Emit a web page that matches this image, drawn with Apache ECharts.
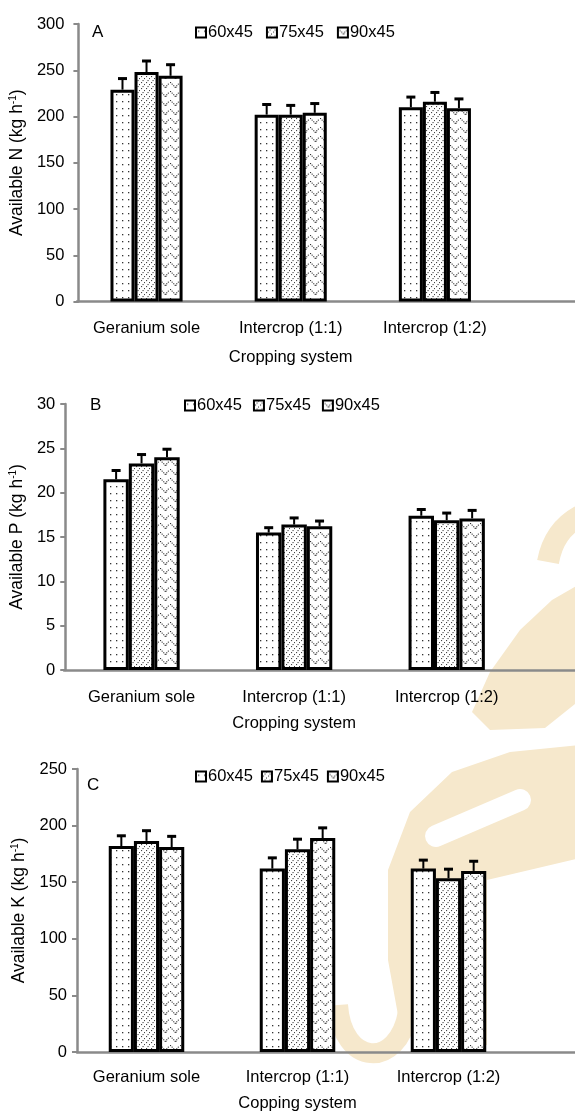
<!DOCTYPE html>
<html>
<head>
<meta charset="utf-8">
<script src="https://cdn.jsdelivr.net/npm/echarts@6/dist/echarts.min.js"></script>
<style>
html,body{margin:0;padding:0;background:#fff;}
#c{width:575px;height:1113px;}
</style>
</head>
<body>
<div id="c"></div>
<script>
// ---------- data ----------
const categories = ['Geranium sole', 'Intercrop (1:1)', 'Intercrop (1:2)'];
const seriesNames = ['60x45', '75x45', '90x45'];

const nA60 = [229, 202, 210];
const nA75 = [248, 202, 216];
const nA90 = [244, 204, 209];
const nAerr60 = [12, 11, 11];
const nAerr75 = [12, 10, 10];
const nAerr90 = [12, 10, 10];

const pB60 = [21.5, 15.5, 17.4];
const pB75 = [23.3, 16.4, 16.9];
const pB90 = [24.0, 16.2, 17.1];
const pBerr60 = [1.0, 0.55, 0.7];
const pBerr75 = [1.0, 0.75, 0.8];
const pBerr90 = [0.9, 0.6, 0.9];

const kC60 = [182, 162, 162];
const kC75 = [186.5, 179, 153.5];
const kC90 = [181, 189, 160];
const kCerr60 = [9, 9.5, 7.5];
const kCerr75 = [9, 9, 8];
const kCerr90 = [9.5, 9, 8.5];

const yTicksA = [0, 50, 100, 150, 200, 250, 300];
const yTicksB = [0, 5, 10, 15, 20, 25, 30];
const yTicksC = [0, 50, 100, 150, 200, 250];

// ---------- patterns ----------
function makeTile(w, h, pts, size, col) {
  const c = document.createElement('canvas');
  c.width = w; c.height = h;
  const g = c.getContext('2d');
  g.fillStyle = '#fff'; g.fillRect(0, 0, w, h);
  g.fillStyle = col;
  pts.forEach(p => g.fillRect(p[0], p[1], size, size));
  return c;
}
const tileDots = makeTile(6, 7, [[2, 3]], 1.3, '#333');
const tileDiag = makeTile(5, 6, [[4, 0], [2.5, 2], [1, 4]], 1.1, '#444');
const tileZig = makeTile(10, 9, [[0, 1], [1.6, 2.6], [3.2, 4.2], [4.6, 5.8], [6.2, 4.2], [7.8, 2.6], [5.4, 5.8]], 1.1, '#333');
const patterns = [tileDots, tileDiag, tileZig].map(t => ({ image: t, repeat: 'repeat' }));

// ---------- builder ----------
const FONT = 'Liberation Sans, Arial, sans-serif';
const GRAY = '#8a8a8a';
const WM = '#f6e8cc';

const panels = [
  { letter: 'A', vals: [nA60, nA75, nA90], errs: [nAerr60, nAerr75, nAerr90], ticks: yTicksA,
    yname: '{a|Available N (kg h}{s|-1}{a|)}', xname: 'Cropping system',
    grid: { left: 73, top: 24, width: 434, height: 277.5 }, yOffset: -4, axisX: 77, yMargin: 14,
    nameGapY: 40, nameGapX: 47, labelMargin: 18, letterPos: [87, 19], legendPos: [190, 19], legendGap: 13 },
  { letter: 'B', vals: [pB60, pB75, pB90], errs: [pBerr60, pBerr75, pBerr90], ticks: yTicksB,
    yname: '{a|Available P (kg h}{s|-1}{a|)}', xname: 'Cropping system',
    grid: { left: 64, top: 404, width: 459, height: 266 }, yOffset: 0, axisX: 64, yMargin: 10,
    nameGapY: 28, nameGapX: 45, labelMargin: 19, letterPos: [85, 392], legendPos: [179, 392], legendGap: 11 },
  { letter: 'C', vals: [kC60, kC75, kC90], errs: [kCerr60, kCerr75, kCerr90], ticks: yTicksC,
    yname: '{a|Available K (kg h}{s|-1}{a|)}', xname: 'Copping system',
    grid: { left: 71, top: 769, width: 453, height: 283 }, yOffset: -6, axisX: 77, yMargin: 10,
    nameGapY: 42, nameGapX: 43, labelMargin: 17, letterPos: [82, 772], legendPos: [190, 763], legendGap: 8 }
];

const option = {
  animation: false,
  backgroundColor: '#fff',
  textStyle: { fontFamily: FONT, color: '#000' },
  title: [], legend: [], grid: [], xAxis: [], yAxis: [], series: [],
  graphic: [
    // faint publisher watermark behind the plots
    { type: 'bezierCurve', z: -10, shape: { x1: 548, y1: 562, cpx1: 552, cpy1: 540, cpx2: 562, cpy2: 526, x2: 580, y2: 516 },
      style: { stroke: WM, lineWidth: 22, fill: null } },
    { type: 'polygon', z: -10, shape: { points: [[552, 600], [580, 584], [580, 700], [545, 728], [490, 730], [472, 712], [490, 672], [520, 630]] },
      style: { fill: WM } },
    { type: 'polygon', z: -10, shape: { points: [[580, 745], [510, 752], [452, 772], [410, 812], [388, 870], [388, 960], [398, 1015], [420, 1045], [487, 1045], [487, 880], [580, 858]] },
      style: { fill: WM } },
    { type: 'line', z: -9, shape: { x1: 436, y1: 836, x2: 520, y2: 800 }, style: { stroke: '#fff', lineWidth: 22, lineCap: 'round' } },
    { type: 'bezierCurve', z: -10, shape: { x1: 338, y1: 1005, cpx1: 342, cpy1: 1066, cpx2: 398, cpy2: 1070, x2: 408, y2: 1012 },
      style: { stroke: WM, lineWidth: 20, fill: null } }
  ]
};

function errRender(params, api) {
  const cat = api.value(0), sIdx = api.value(1), val = api.value(2), err = api.value(3);
  const base = api.coord([cat, val]);
  const top = api.coord([cat, val + err]);
  const band = api.size([1, 0])[0];
  const bw = band * 0.5 / 3;
  const x = base[0] + (sIdx - 1) * bw;
  return {
    type: 'group',
    children: [
      { type: 'line', shape: { x1: x, y1: base[1], x2: x, y2: top[1] }, style: { stroke: '#000', lineWidth: 2 } },
      { type: 'line', shape: { x1: x - 4.5, y1: top[1], x2: x + 4.5, y2: top[1] }, style: { stroke: '#000', lineWidth: 3 } }
    ]
  };
}

panels.forEach((p, i) => {
  const gi = i * 2;
  option.grid.push(p.grid);
  option.grid.push({ left: p.axisX, right: 0, top: p.grid.top, height: p.grid.height });
  option.title.push({ text: p.letter, left: p.letterPos[0], top: p.letterPos[1],
    textStyle: { fontFamily: FONT, fontSize: 17, fontWeight: 'normal', color: '#000' } });
  option.legend.push({
    data: seriesNames, left: p.legendPos[0], top: p.legendPos[1], itemWidth: 10, itemHeight: 10,
    itemGap: p.legendGap, icon: 'rect', selectedMode: false,
    textStyle: { fontFamily: FONT, fontSize: 16.5, color: '#000', padding: [0, 0, 0, -3] },
    itemStyle: { borderColor: '#000', borderWidth: 2 }
  });
  option.xAxis.push({
    type: 'category', gridIndex: gi, data: categories,
    axisLine: { show: false }, axisTick: { show: false },
    axisLabel: { fontFamily: FONT, fontSize: 16.5, color: '#000', margin: p.labelMargin },
    name: p.xname, nameLocation: 'middle', nameGap: p.nameGapX,
    nameTextStyle: { fontFamily: FONT, fontSize: 16.5, color: '#000' }
  });
  option.xAxis.push({
    type: 'value', gridIndex: gi + 1, min: 0, max: 1,
    axisLine: { show: true, lineStyle: { color: GRAY, width: 2.5 } },
    axisTick: { show: false }, axisLabel: { show: false }, splitLine: { show: false }
  });
  const tmax = p.ticks[p.ticks.length - 1];
  option.yAxis.push({
    type: 'value', gridIndex: gi, min: 0, max: tmax, interval: p.ticks[1] - p.ticks[0],
    offset: p.yOffset,
    axisLine: { show: true, lineStyle: { color: GRAY, width: 2.5 } },
    axisTick: { show: true, length: 5, lineStyle: { color: GRAY, width: 2 } },
    axisLabel: { fontFamily: FONT, fontSize: 16.5, color: '#000', margin: p.yMargin },
    splitLine: { show: false },
    name: p.yname, nameLocation: 'middle', nameGap: p.nameGapY,
    nameTextStyle: { rich: {
      a: { fontFamily: FONT, fontSize: 17.5, color: '#000' },
      s: { fontFamily: FONT, fontSize: 10, color: '#000', verticalAlign: 'top' } } }
  });
  option.yAxis.push({ type: 'value', gridIndex: gi + 1, min: 0, max: 1, show: false });

  const errData = [];
  p.vals.forEach((arr, s) => {
    option.series.push({
      type: 'bar', name: seriesNames[s], xAxisIndex: gi, yAxisIndex: gi,
      data: arr, barGap: '0%', barCategoryGap: '50%',
      itemStyle: { color: patterns[s], borderColor: '#000', borderWidth: 3 },
      z: 3
    });
    arr.forEach((v, c) => errData.push([c, s, v, p.errs[s][c]]));
  });
  option.series.push({
    type: 'custom', name: 'err' + p.letter, xAxisIndex: gi, yAxisIndex: gi,
    renderItem: errRender, data: errData, z: 5, silent: true
  });
});

const chart = echarts.init(document.getElementById('c'), null, { renderer: 'canvas' });
chart.setOption(option);
</script>
</body>
</html>
